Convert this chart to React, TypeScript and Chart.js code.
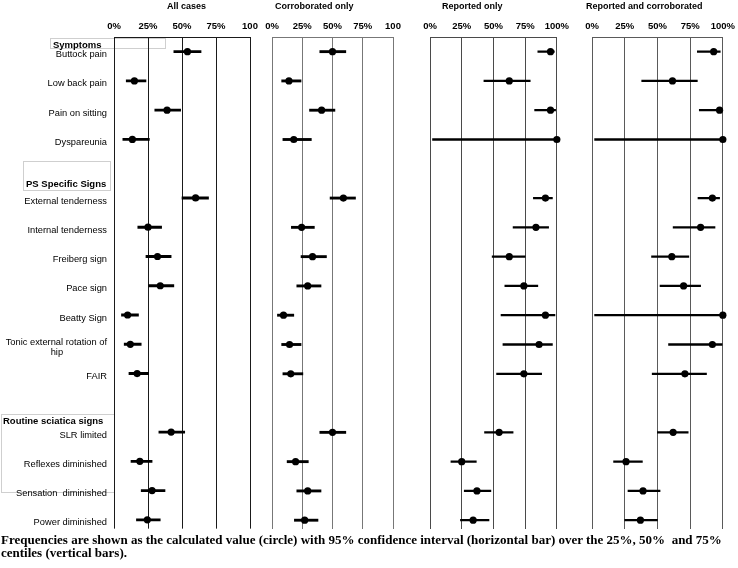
import React, { useEffect, useRef } from 'react';
import { Chart, registerables } from 'chart.js';
Chart.register(...registerables);

// ---------- data ----------
const rowLabels: (string | string[])[] = [
  'Buttock pain', 'Low back pain', 'Pain on sitting', 'Dyspareunia', '',
  'External tenderness', 'Internal tenderness', 'Freiberg sign', 'Pace sign', 'Beatty Sign',
  ['Tonic external rotation of', 'hip'], 'FAIR', '',
  'SLR limited', 'Reflexes diminished', 'Sensation  diminished', 'Power diminished',
];

const tickValues = [0, 25, 50, 75, 100];
const tickLabelsCut = ['0%', '25%', '50%', '75%', '100'];
const tickLabelsFull = ['0%', '25%', '50%', '75%', '100%'];

const allEst = [54, 15, 39, 13.5, null, 60, 25, 32, 34, 10, 12, 17, null, 42, 19, 28, 24.5];
const allLo = [44, 9, 30, 6.5, null, 50, 17.5, 23.5, 25.5, 5.5, 7.5, 11, null, 33, 12.5, 20, 16.5];
const allHi = [64, 23.5, 49, 26, null, 69.5, 35, 42, 44, 18, 20, 25.5, null, 52, 28, 37.5, 34];

const corEst = [50, 14, 41, 18, null, 59, 24.5, 33.5, 29.5, 9.5, 14.5, 15.5, null, 50, 19.5, 29.5, 27];
const corLo = [39.5, 8, 31, 9, null, 48, 16, 24, 20.5, 4.5, 8, 9, null, 39.5, 12.5, 20.5, 18.5];
const corHi = [61, 24, 52, 32.5, null, 69, 35, 45, 40.5, 18, 24, 25.5, null, 61, 30, 40.5, 38];

const repEst = [95, 62.5, 95, 100, null, 91, 83.5, 62.5, 74, 91, 86, 74, null, 54.5, 25, 37, 34];
const repLo = [85, 42.5, 82.5, 2, null, 81.5, 65.5, 49, 59, 56, 57.5, 52.5, null, 43, 16.5, 27, 24];
const repHi = [98, 79, 99, 100, null, 96.5, 93.5, 75, 85, 98.5, 96.5, 88, null, 65.5, 36.5, 48, 46.5];

const rcEst = [93, 61.5, 97.5, 100, null, 92, 83, 61, 70, 100, 92, 71, null, 62, 26, 39, 37];
const rcLo = [80.5, 38, 82, 2, null, 81, 62, 45.5, 52, 2, 58.5, 46, null, 50, 16.5, 27.5, 25];
const rcHi = [98, 80.5, 100, 100, null, 97.5, 94, 74, 83, 100, 99.5, 87.5, null, 73.5, 38.5, 52, 50];

const panelTitles = ['All cases', 'Corroborated only', 'Reported only', 'Reported and corroborated'];

// ---------- layout / style ----------
const FF = '"Liberation Sans", Arial, Helvetica, sans-serif';
const AREA_TOP = 37;
const AREA_BOTTOM = 529;
const PAD = 14;
const PAD_BOTTOM = 12;
const CANVAS_H = AREA_BOTTOM + PAD_BOTTOM;
const LABEL_FONT_SIZE = 9.3;

type PanelCfg = {
  est: (number | null)[]; lo: (number | null)[]; hi: (number | null)[];
  tickLabels: string[]; left: number; right: number;
  grid: string; barW: number; showLabels: boolean;
};

const panels: PanelCfg[] = [
  { est: allEst, lo: allLo, hi: allHi, tickLabels: tickLabelsCut, left: 114, right: 250, grid: '#1a1a1a', barW: 2.2, showLabels: true },
  { est: corEst, lo: corLo, hi: corHi, tickLabels: tickLabelsCut, left: 272, right: 393, grid: '#777777', barW: 2.2, showLabels: false },
  { est: repEst, lo: repLo, hi: repHi, tickLabels: tickLabelsFull, left: 430, right: 560, grid: '#4a4a4a', barW: 1.6, showLabels: false },
  { est: rcEst, lo: rcLo, hi: rcHi, tickLabels: tickLabelsFull, left: 592, right: 726, grid: '#5a5a5a', barW: 1.6, showLabels: false },
];

const titleLefts = [167, 275, 442, 586];

let measureCtx: CanvasRenderingContext2D | null = null;
function centeredLines(lines: string[]): string[] {
  if (!measureCtx) measureCtx = document.createElement('canvas').getContext('2d');
  const ctx = measureCtx!;
  ctx.font = `${LABEL_FONT_SIZE}px ${FF}`;
  const widths = lines.map((l) => ctx.measureText(l).width);
  const maxW = Math.max(...widths);
  const sp = ctx.measureText(' ').width || 2.5;
  return lines.map((l, i) => l + ' '.repeat(Math.round((maxW - widths[i]) / 2 / sp)));
}

function Panel({ cfg }: { cfg: PanelCfg }) {
  const ref = useRef<HTMLCanvasElement>(null);
  const canvasLeft = cfg.showLabels ? 0 : cfg.left - PAD;
  const canvasW = cfg.right + PAD - canvasLeft;

  useEffect(() => {
    const idx = rowLabels.map((_, i) => i).filter((i) => cfg.est[i] !== null);
    const chart = new Chart(ref.current!, {
      type: 'bar',
      data: {
        datasets: [
          {
            type: 'bar',
            data: idx.map((i) => ({ x: [cfg.lo[i], cfg.hi[i]], y: i })) as any,
            backgroundColor: '#000',
            borderWidth: 0,
            barThickness: cfg.barW,
          } as any,
          {
            type: 'line',
            data: idx.map((i) => ({ x: cfg.est[i], y: i })) as any,
            showLine: false,
            clip: false,
            pointRadius: 3.6,
            pointBackgroundColor: '#000',
            pointBorderWidth: 0,
            pointHoverRadius: 3.6,
          } as any,
        ],
      },
      options: {
        indexAxis: 'y',
        animation: false,
        responsive: false,
        maintainAspectRatio: false,
        devicePixelRatio: 1,
        events: [],
        layout: { padding: { left: cfg.showLabels ? 0 : PAD, right: PAD, top: 0, bottom: PAD_BOTTOM } },
        plugins: { legend: { display: false }, tooltip: { enabled: false }, title: { display: false } },
        scales: {
          x: {
            type: 'linear',
            position: 'top',
            min: 0,
            max: 100,
            offset: false,
            afterBuildTicks: (s: any) => { s.ticks = tickValues.map((v) => ({ value: v })); },
            afterFit: (s: any) => { s.height = AREA_TOP; },
            grid: { color: cfg.grid, lineWidth: 1, drawTicks: false, offset: false },
            border: { display: true, color: cfg.grid, width: 1 },
            ticks: {
              padding: 5,
              autoSkip: false,
              maxRotation: 0,
              color: '#000',
              font: { family: FF, size: 9.5, weight: 'bold' },
              callback: (_v: any, i: number) => cfg.tickLabels[i],
            },
          },
          y: {
            type: 'linear',
            reverse: true,
            min: -0.5,
            max: 16.3,
            offset: false,
            display: cfg.showLabels,
            afterBuildTicks: (s: any) => { s.ticks = rowLabels.map((_, i) => ({ value: i })); },
            afterFit: (s: any) => { if (cfg.showLabels) s.width = cfg.left; },
            grid: { display: false, drawTicks: false, offset: false },
            border: { display: false },
            ticks: {
              padding: 7,
              labelOffset: 3,
              autoSkip: false,
              color: '#000',
              font: { family: FF, size: LABEL_FONT_SIZE, lineHeight: 1.15 },
              callback: (v: any) => {
                const l = rowLabels[v as number];
                return Array.isArray(l) ? centeredLines(l) : l;
              },
            },
          },
        },
      } as any,
    });
    return () => chart.destroy();
  }, []);

  return (
    <canvas
      ref={ref}
      width={canvasW}
      height={CANVAS_H}
      style={{ position: 'absolute', left: canvasLeft, top: 0, width: canvasW, height: CANVAS_H }}
    />
  );
}

const headerStyle: React.CSSProperties = {
  position: 'absolute',
  fontFamily: FF,
  fontWeight: 'bold',
  fontSize: 9.5,
  lineHeight: '11px',
  whiteSpace: 'nowrap',
  color: '#000',
};

const boxStyle: React.CSSProperties = {
  position: 'absolute',
  border: '1px solid #cfcfcf',
  boxSizing: 'border-box',
};

export default function App() {
  return (
    <div style={{ position: 'absolute', left: 0, top: 0, width: 738, height: 568, overflow: 'hidden', background: '#fff' }}>
      {/* group boxes */}
      <div style={{ ...boxStyle, left: 50, top: 38, width: 116, height: 11 }} />
      <div style={{ ...boxStyle, left: 23, top: 161, width: 88, height: 30 }} />
      <div style={{ ...boxStyle, left: 1, top: 414, width: 114, height: 79 }} />

      {panels.map((p, i) => <Panel key={i} cfg={p} />)}

      {panelTitles.map((t, i) => (
        <div key={t} style={{ ...headerStyle, left: titleLefts[i], top: 1, fontSize: 9 }}>{t}</div>
      ))}

      <div style={{ ...headerStyle, left: 53, top: 38.5 }}>Symptoms</div>
      <div style={{ ...headerStyle, left: 26, top: 177.5 }}>PS Specific Signs</div>
      <div style={{ ...headerStyle, left: 3, top: 414.5 }}>Routine sciatica signs</div>

      <div
        style={{
          position: 'absolute',
          left: 1,
          top: 533,
          fontFamily: '"Liberation Serif", "DejaVu Serif", serif',
          fontWeight: 'bold',
          fontSize: 13,
          lineHeight: '13px',
          whiteSpace: 'nowrap',
          color: '#000',
        }}
      >
        Frequencies are shown as the calculated value (circle) with 95% confidence interval (horizontal bar) over the 25%, 50%{'\u00a0'} and 75%
        <br />
        centiles (vertical bars).
      </div>
    </div>
  );
}
